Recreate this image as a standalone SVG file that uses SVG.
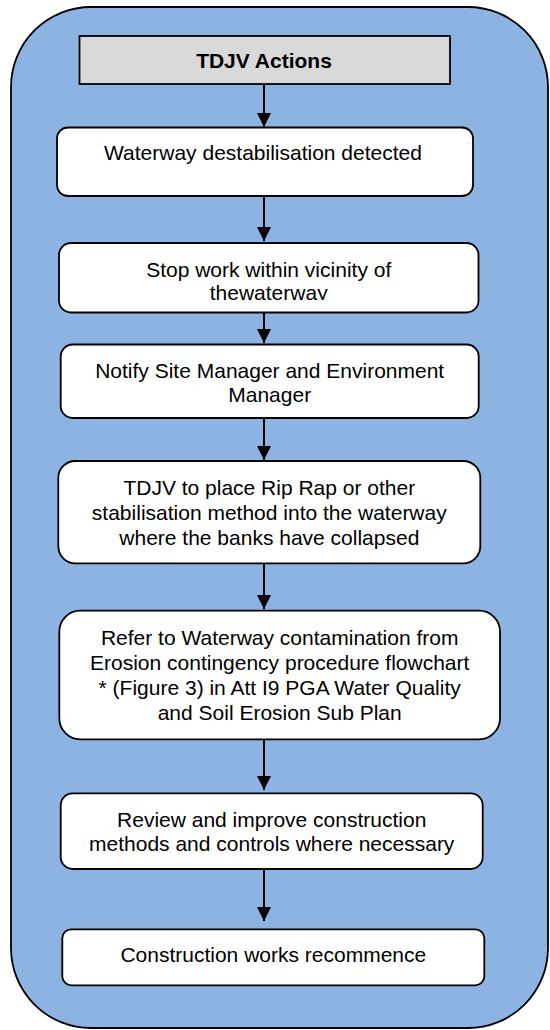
<svg xmlns="http://www.w3.org/2000/svg" width="550" height="1030" viewBox="0 0 550 1030">
<style>
.box{fill:#FFFFFF;stroke:#000000;stroke-width:1.8}
.hdr{fill:#D9D9D9;stroke:#000000;stroke-width:1.8}
.t{font-family:"Liberation Sans",Arial,Helvetica,sans-serif;font-size:21px;fill:#000000;text-anchor:middle}
.b{font-weight:bold}
.conn line{stroke:#000000;stroke-width:2;marker-end:url(#ah)}
</style>
<defs>
<marker id="ah" markerUnits="userSpaceOnUse" markerWidth="14" markerHeight="14" refX="14" refY="7" orient="auto" viewBox="0 0 14 14">
<path d="M0,0 L14,7 L0,14 z" fill="#000000"/>
</marker>
<clipPath id="clip2"><rect x="59" y="243" width="420" height="57"/></clipPath>
</defs>
<g id="container">
<rect x="11" y="7" width="537" height="1021" rx="80" ry="80" fill="#8DB3E2" stroke="#000000" stroke-width="1.8"/>
</g>
<g id="connectors" class="conn">
<line x1="264" y1="84" x2="264" y2="127"/>
<line x1="264" y1="196" x2="264" y2="241"/>
<line x1="264" y1="312" x2="264" y2="343"/>
<line x1="264" y1="418" x2="264" y2="460"/>
<line x1="264" y1="563" x2="264" y2="609"/>
<line x1="264" y1="739" x2="264" y2="790"/>
<line x1="264" y1="869" x2="264" y2="921"/>
</g>
<g id="header">
<rect class="hdr" x="79.5" y="36" width="370.5" height="48"/>
<text class="t b" x="264" y="67.5">TDJV Actions</text>
</g>
<g id="n1">
<rect class="box" x="57" y="127.5" width="416" height="68.5" rx="11" ry="11"/>
<text class="t" x="263" y="160">Waterway destabilisation detected</text>
</g>
<g id="n2">
<rect class="box" x="59" y="243" width="419.5" height="69.5" rx="12" ry="12"/>
<text class="t" x="268.7" y="276.5">Stop work within vicinity of</text>
<text class="t" x="268.7" y="299.5" clip-path="url(#clip2)">thewaterway</text>
</g>
<g id="n3">
<rect class="box" x="60.7" y="344.5" width="418" height="73.5" rx="12" ry="12"/>
<text class="t" x="269.7" y="378">Notify Site Manager and Environment</text>
<text class="t" x="269.7" y="401.7">Manager</text>
</g>
<g id="n4">
<rect class="box" x="58.3" y="461" width="422" height="102.3" rx="17" ry="17"/>
<text class="t" x="269.3" y="495">TDJV to place Rip Rap or other</text>
<text class="t" x="269.3" y="520">stabilisation method into the waterway</text>
<text class="t" x="269.3" y="545">where the banks have collapsed</text>
</g>
<g id="n5">
<rect class="box" x="59.3" y="610.7" width="440.7" height="128.6" rx="21" ry="21"/>
<text class="t" x="279.7" y="645">Refer to Waterway contamination from</text>
<text class="t" x="279.7" y="670">Erosion contingency procedure flowchart</text>
<text class="t" x="279.7" y="695">* (Figure 3) in Att I9 PGA Water Quality</text>
<text class="t" x="279.7" y="719.5">and Soil Erosion Sub Plan</text>
</g>
<g id="n6">
<rect class="box" x="60.7" y="793.3" width="422" height="75.7" rx="12" ry="12"/>
<text class="t" x="271.7" y="827.3">Review and improve construction</text>
<text class="t" x="271.7" y="851">methods and controls where necessary</text>
</g>
<g id="n7">
<rect class="box" x="62.3" y="929.3" width="422" height="56" rx="9" ry="9"/>
<text class="t" x="273.3" y="962.3">Construction works recommence</text>
</g>
</svg>
